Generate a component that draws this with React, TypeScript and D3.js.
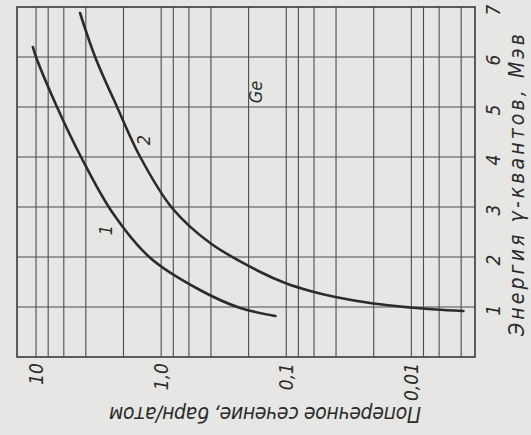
import React from "react";
import * as d3 from "d3";

// Cross-section axis (barn/atom, log, decreasing to the right) and energy axis (MeV)
const sigmaDomain = [14.2, 0.0031];
const energyDomain = [0, 7];
const sigmaGrid = [10, 8, 6, 4, 2, 1, 0.8, 0.6, 0.4, 0.2, 0.1, 0.08, 0.06, 0.04, 0.02, 0.01, 0.008, 0.006, 0.004];
const sigmaTicks = [10, 1, 0.1, 0.01];
const sigmaTickLabels = ["10", "1,0", "0,1", "0,01"];
const energyTicks = [1, 2, 3, 4, 5, 6, 7];

// Curve 1
const energy1 = [6.2, 6.0, 5.0, 4.0, 2.9, 1.98, 1.34, 0.98, 0.82];
const sigma1 = [10.6, 10, 6.8, 4.37, 2.47, 1.22, 0.49, 0.233, 0.122];
// Curve 2
const energy2 = [6.88, 6.0, 5.0, 4.0, 2.98, 2.28, 1.7, 1.48, 1.32, 1.2, 1.07, 0.99, 0.95, 0.92];
const sigma2 = [4.45, 3.37, 2.25, 1.47, 0.817, 0.406, 0.161, 0.102, 0.0643, 0.0406, 0.0201, 0.0102, 0.00643, 0.00384];

// Curve labels placed in data coordinates
const curveLabels = ["1", "2", "Ge"];
const curveLabelSigma = [2.8, 1.39, 0.177];
const curveLabelEnergy = [2.54, 4.34, 5.3];

const W = 531;
const H = 435;
const INK = "#2b2b2b";
const FONT = "'DejaVu Sans Condensed', 'DejaVu Sans', sans-serif";

export default function App() {
  const x = d3.scaleLog().domain(sigmaDomain).range([17, 475]);
  const y = d3.scaleLinear().domain(energyDomain).range([357, 7]);

  const line = d3
    .line<[number, number]>()
    .x((d) => x(d[0]))
    .y((d) => y(d[1]))
    .curve(d3.curveCatmullRom.alpha(0.5));

  const pts1 = sigma1.map((s, i) => [s, energy1[i]] as [number, number]);
  const pts2 = sigma2.map((s, i) => [s, energy2[i]] as [number, number]);

  const x0 = x(sigmaDomain[0]);
  const x1 = x(sigmaDomain[1]);
  const yTop = y(energyDomain[1]);
  const yBot = y(energyDomain[0]);

  return (
    <svg
      width={W}
      height={H}
      style={{ position: "absolute", left: 0, top: 0, display: "block" }}
    >
      <rect x={0} y={0} width={W} height={H} fill="#e6e6e4" />

      {/* vertical grid */}
      {sigmaGrid.map((s) => (
        <line key={"v" + s} x1={x(s)} x2={x(s)} y1={yTop} y2={yBot} stroke="#4d4d4d" strokeWidth={1.1} />
      ))}
      {/* horizontal grid */}
      {energyTicks.slice(0, -1).map((e) => (
        <line key={"h" + e} x1={x0} x2={x1} y1={y(e)} y2={y(e)} stroke="#4d4d4d" strokeWidth={1.1} />
      ))}
      {/* frame */}
      <rect x={x0} y={yTop} width={x1 - x0} height={yBot - yTop} fill="none" stroke="#3a3a3a" strokeWidth={1.6} />

      {/* curves */}
      <path d={line(pts1) || ""} fill="none" stroke={INK} strokeWidth={2.6} strokeLinecap="round" />
      <path d={line(pts2) || ""} fill="none" stroke={INK} strokeWidth={2.6} strokeLinecap="round" />

      {/* curve labels */}
      {curveLabels.map((t, i) => {
        const cx = x(curveLabelSigma[i]);
        const cy = y(curveLabelEnergy[i]);
        return (
          <text
            key={t}
            transform={`translate(${cx},${cy}) rotate(-90)`}
            textAnchor="middle"
            dy="0.35em"
            fontFamily={FONT}
            fontStyle="italic"
            fontSize={18}
            fill={INK}
          >
            {t}
          </text>
        );
      })}

      {/* cross-section tick labels */}
      {sigmaTicks.map((s, i) => (
        <text
          key={"t" + s}
          transform={`translate(${x(s)},${yBot + 6}) rotate(-90)`}
          textAnchor="end"
          dy="0.35em"
          fontFamily={FONT}
          fontStyle="italic"
          fontSize={19}
          fill={INK}
        >
          {sigmaTickLabels[i]}
        </text>
      ))}

      {/* energy tick labels */}
      {energyTicks.map((e) => (
        <text
          key={"e" + e}
          transform={`translate(${x1 + 18},${y(e) + 3}) rotate(-90)`}
          textAnchor="middle"
          dy="0.35em"
          fontFamily={FONT}
          fontStyle="italic"
          fontSize={19}
          fill={INK}
        >
          {e}
        </text>
      ))}

      {/* axis titles */}
      <text
        transform={`translate(${x1 + 42},${(yTop + yBot) / 2 + 3}) rotate(-90)`}
        textAnchor="middle"
        dy="0.35em"
        fontFamily={FONT}
        fontStyle="italic"
        fontSize={21}
        fill={INK}
        textLength={302}
        lengthAdjust="spacing"
      >
        Энергия γ-квантов, Мэв
      </text>
      <text
        transform={`translate(265,414) rotate(180)`}
        textAnchor="middle"
        dy="0.35em"
        fontFamily={FONT}
        fontStyle="italic"
        fontSize={21}
        fill={INK}
        textLength={312}
        lengthAdjust="spacing"
      >
        Поперечное сечение, барн/атом
      </text>
    </svg>
  );
}
